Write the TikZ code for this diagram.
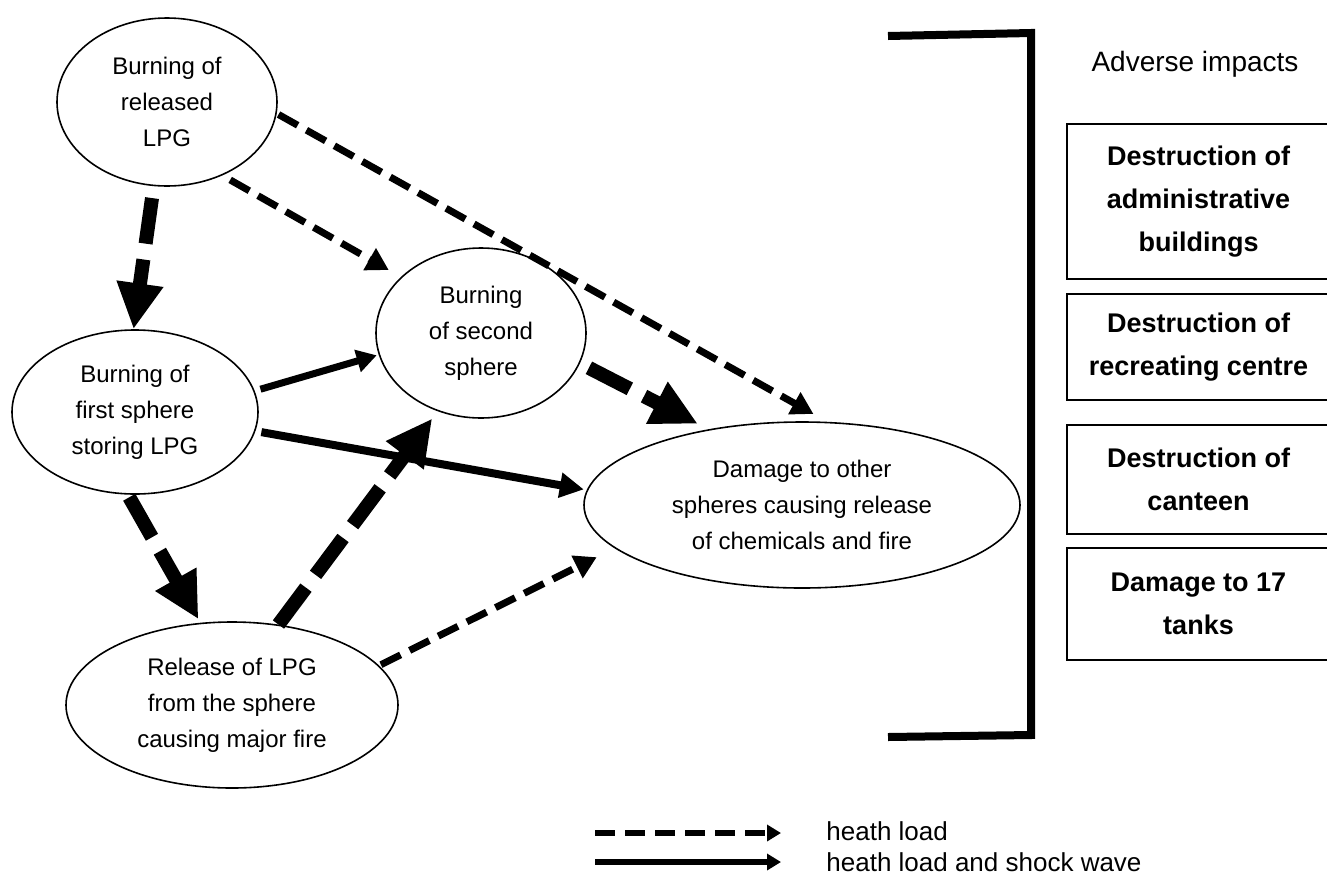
\documentclass[tikz,border=0pt]{standalone}
\usepackage{fontspec}
\setmainfont{Liberation Sans}
\usetikzlibrary{arrows.meta,shapes.geometric}

\begin{document}
\begin{tikzpicture}[x=0.5pt,y=-0.5pt,
  event/.style={draw,ellipse,line width=0.8pt,align=center,inner sep=0pt,
    font=\fontsize{12}{18}\selectfont},
  impact/.style={draw,line width=0.75pt,align=center,inner sep=0pt,
    minimum width=131.5pt,font=\bfseries\fontsize{13.5}{21.5}\selectfont},
  heat/.style={line width=3.5pt,dash pattern=on 11pt off 5pt,
    -{Triangle[length=11pt,width=12pt]}},
  heatbig/.style={line width=7pt,dash pattern=on 23pt off 8pt,
    -{Triangle[length=23pt,width=22pt]}},
  shock/.style={line width=3.5pt,-{Triangle[length=10pt,width=11pt]}},
  legendtxt/.style={anchor=west,inner sep=0pt,font=\fontsize{13}{16}\selectfont}]
\useasboundingbox (0,0) rectangle (1327,879);

% events
\node[event,minimum width=110pt,minimum height=84pt] (burnLPG) at (167,102) {Burning of\\released\\LPG};
\node[event,minimum width=123pt,minimum height=82pt] (firstSph) at (135,412) {Burning of\\first sphere\\storing LPG};
\node[event,minimum width=105pt,minimum height=85pt] (secondSph) at (481,333) {Burning\\of second\\sphere};
\node[event,minimum width=166pt,minimum height=83pt] (release) at (232,705) {Release of LPG\\from the sphere\\causing major fire};
\node[event,minimum width=218pt,minimum height=83pt] (damage) at (802,505) {Damage to other\\spheres causing release\\of chemicals and fire};

% loads between events
\draw[heatbig,shorten <=6pt] (burnLPG.-99) -- (firstSph.91);
\draw[heat,shorten <=4.5pt,shorten >=7pt] (burnLPG.-53) -- (secondSph.145);
\draw[heat,shorten <=1pt,shorten >=8pt] (burnLPG.-6) -- (damage.73);
\draw[shock,shorten <=3pt,shorten >=1pt] (firstSph.10) -- (secondSph.-168);
\draw[shock,line width=4pt,-{Triangle[length=12pt,width=12pt]},shorten <=3pt,shorten >=1.5pt] (firstSph.-9.5) -- (damage.176);
\draw[heatbig,shorten <=1.5pt,shorten >=2pt] (firstSph.-95) -- (release.111);
\draw[heatbig,shorten >=4.5pt] (release.60) -- (secondSph.-119.5);
\draw[heat,shorten <=1pt,shorten >=10pt] (release.15) -- (damage.-167);
\draw[heatbig,shorten <=5pt,shorten >=6pt] (secondSph.-17.6) -- (damage.141);

% bracket
\draw[line width=4pt] (888,36) -- (1031,33) -- (1031,735) -- (888,737);

% adverse impacts
\node[font=\fontsize{14}{17}\selectfont] (impacts) at (1195,64) {Adverse impacts};
\node[impact,minimum height=77.5pt] (admin) at (1198.5,201.5) {Destruction of\\administrative\\buildings};
\node[impact,minimum height=53pt] (recre) at (1198.5,347) {Destruction of\\recreating centre};
\node[impact,minimum height=54.5pt] (canteen) at (1198.5,479.5) {Destruction of\\canteen};
\node[impact,minimum height=56pt] (tanks) at (1198.5,604) {Damage to 17\\tanks};

% legend
\node[legendtxt] (lgHeat) at (826,831) {heath load};
\node[legendtxt] (lgShock) at (826,862) {heath load and shock wave};
\coordinate (lgA) at (595,833);
\coordinate (lgB) at (595,862);
\draw[line width=3pt,dash pattern=on 10pt off 5pt,-{Triangle[length=7pt,width=8pt]},shorten >=22.5pt] (lgA) -- (lgHeat.west |- lgA);
\draw[line width=3pt,-{Triangle[length=7pt,width=8pt]},shorten >=22.5pt] (lgB) -- (lgShock.west |- lgB);
\end{tikzpicture}
\end{document}
